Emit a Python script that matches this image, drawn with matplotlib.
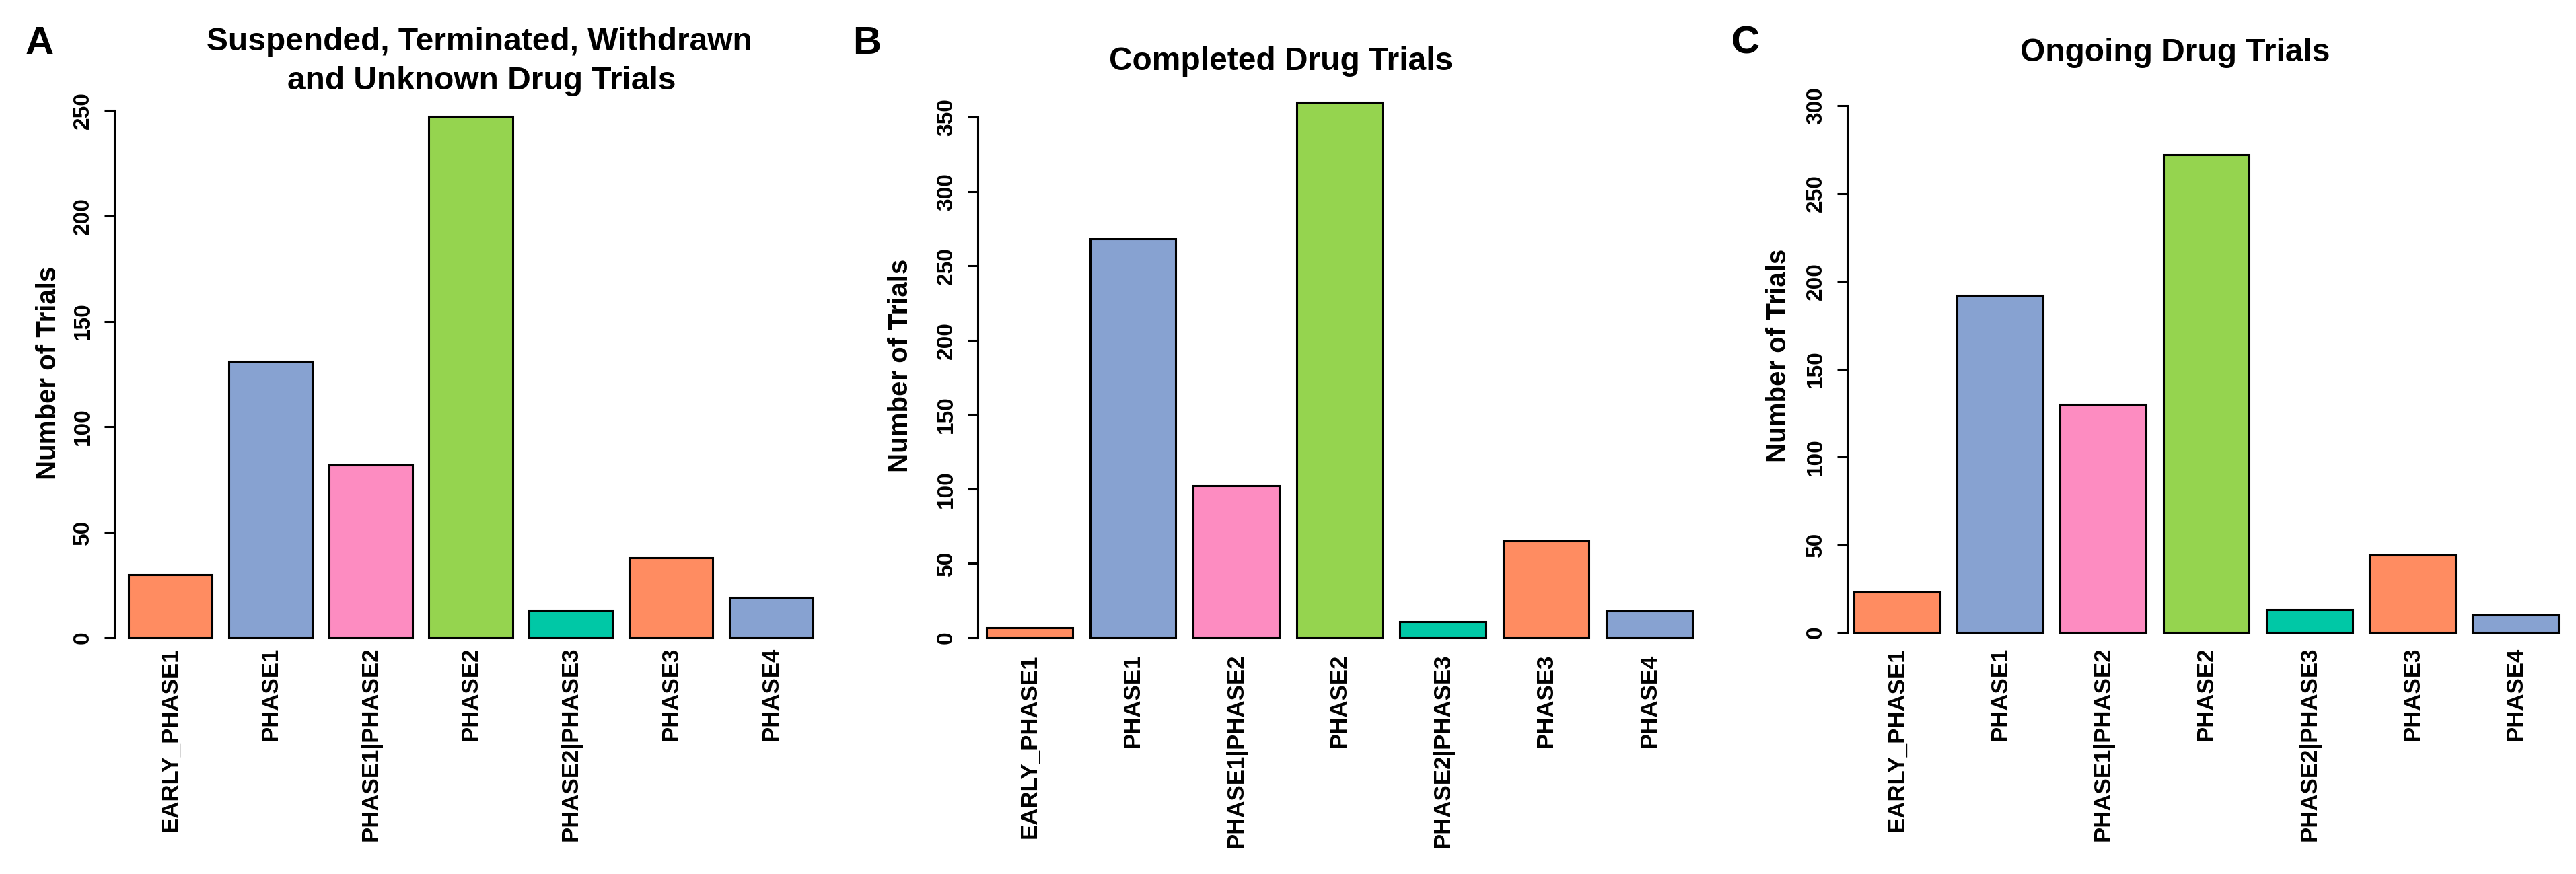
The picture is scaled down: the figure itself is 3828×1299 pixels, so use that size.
import matplotlib
matplotlib.use("Agg")
import matplotlib.pyplot as plt
import numpy as np

plt.rcParams['font.family'] = ['Liberation Sans', 'DejaVu Sans']
plt.rcParams['font.weight'] = 'bold'

# ---- data ----
categories = ['EARLY_PHASE1', 'PHASE1', 'PHASE1|PHASE2', 'PHASE2',
              'PHASE2|PHASE3', 'PHASE3', 'PHASE4']
suspended_vals = [30, 131, 82, 247, 13, 38, 19]
completed_vals = [7, 268, 102, 360, 11, 65, 18]
ongoing_vals = [23, 192, 130, 272, 13, 44, 10]
bar_colors = ['#FF8C61', '#87A2D1', '#FD8CC1', '#95D44F', '#00C8A6',
              '#FF8C61', '#87A2D1']
ylabel_text = 'Number of Trials'

W, H = 3828, 1299
PX = 100 / 72.0  # pixels per point
fig = plt.figure(figsize=(W / 100, H / 100), dpi=100)


def fx(px):
    return px / W


def fy(py):
    return 1 - py / H


def add_panel(vals, axis_px, L, R, py0, py_top_tick, top_tick, xpad_px):
    w = (R - L) / 8.2
    pitch = 1.2 * w
    x0 = (axis_px - (L + w / 2)) / pitch
    right_px = R + 15
    x1 = 6 + (right_px - (R - w / 2)) / pitch
    ppu = (py0 - py_top_tick) / top_tick
    top_px = 100
    y1 = (py0 - top_px) / ppu
    ax = fig.add_axes([fx(axis_px), fy(py0), (right_px - axis_px) / W,
                       (py0 - top_px) / H])
    ax.set_xlim(x0, x1)
    ax.set_ylim(0, y1)
    ax.patch.set_alpha(0)
    ax.bar(np.arange(len(vals)), vals, width=1 / 1.2, color=bar_colors,
           edgecolor='black', linewidth=2.2, clip_on=False)
    for s in ['top', 'right', 'bottom']:
        ax.spines[s].set_visible(False)
    ax.spines['left'].set_bounds(0, top_tick)
    ax.spines['left'].set_linewidth(2.2)
    ticks = np.arange(0, top_tick + 1, 50)
    ax.set_yticks(ticks)
    ax.set_yticklabels([str(t) for t in ticks], rotation=90, va='center',
                       fontsize=24, fontweight='bold')
    ax.tick_params(axis='y', length=11, width=2.2, pad=11.5)
    ax.set_xticks(np.arange(len(categories)))
    ax.set_xticklabels(categories, rotation=90, fontsize=25, fontweight='bold')
    ax.tick_params(axis='x', length=0, pad=xpad_px / PX)
    return ax


add_panel(suspended_vals, 170, 191, 1208, 948, 164, 250, 14)
add_panel(completed_vals, 1453, 1466, 2515, 948, 174, 350, 24)
add_panel(ongoing_vals, 2745, 2755, 3802, 940, 157, 300, 22)

# titles
fig.text(fx(712), fy(75), 'Suspended, Terminated, Withdrawn', ha='center',
         va='baseline', fontsize=34.5, fontweight='bold')
fig.text(fx(716), fy(133), 'and Unknown Drug Trials', ha='center',
         va='baseline', fontsize=34.5, fontweight='bold')
fig.text(fx(1904), fy(104), 'Completed Drug Trials', ha='center',
         va='baseline', fontsize=34.5, fontweight='bold')
fig.text(fx(3232), fy(91), 'Ongoing Drug Trials', ha='center',
         va='baseline', fontsize=34.5, fontweight='bold')

# panel letters
for letter, x in [('A', 38), ('B', 1267), ('C', 2573)]:
    fig.text(fx(x), fy(80), letter, ha='left', va='baseline', fontsize=42,
             fontweight='bold')

# y labels
for x, y in [(72, 554), (1338, 543), (2643, 528)]:
    fig.text(fx(x), fy(y), ylabel_text, rotation=90, ha='center', va='center',
             fontsize=29, fontweight='bold')

fig.savefig('out.png', dpi=100)
